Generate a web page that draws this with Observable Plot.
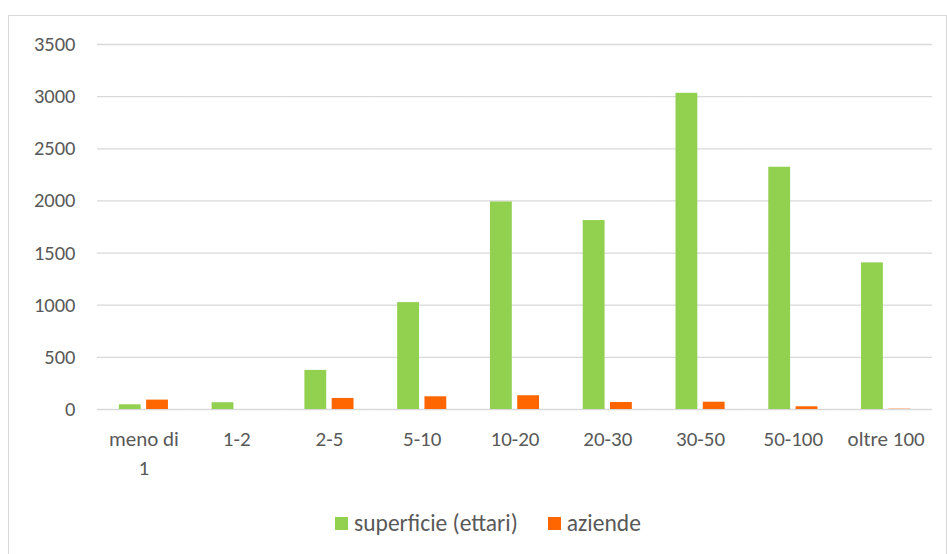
<!DOCTYPE html>
<html>
<head>
<meta charset="utf-8">
<script src="https://cdn.jsdelivr.net/npm/d3@7"></script>
<script src="https://cdn.jsdelivr.net/npm/@observablehq/plot@0.6"></script>
<style>
  html, body { margin: 0; padding: 0; background: #ffffff; overflow: hidden; }
  #frame {
    position: absolute; left: 8px; top: 15px; width: 939px; height: 560px;
    box-sizing: border-box; border: 1px solid #d9d9d9; background: #fff;
    font-family: Carlito, Lato, sans-serif; color: #595959;
  }
  #legend { display: flex; align-items: center; padding-left: 326px; margin-top: 15px; font-size: 23.5px; line-height: 24px; }
  .item { display: flex; align-items: center; margin-right: 30px; }
  .sw { width: 13px; height: 13px; margin-right: 6px; display: inline-block; }
</style>
</head>
<body>
<div id="frame"><div id="chart"></div><div id="legend"></div></div>
<script>
const categories = ["meno di 1", "1-2", "2-5", "5-10", "10-20", "20-30", "30-50", "50-100", "oltre 100"];
const tickLabels = ["meno di\n1", "1-2", "2-5", "5-10", "10-20", "20-30", "30-50", "50-100", "oltre 100"];
const seriesNames = ["superficie (ettari)", "aziende"];
const superficie = [45, 65, 375, 1025, 1990, 1812, 3032, 2323, 1406];
const aziende = [90, 0, 106, 122, 132, 67, 70, 26, 3];
const yTicks = [0, 500, 1000, 1500, 2000, 2500, 3000, 3500];
const colors = ["#92d050", "#ff6600"];

const data = [];
categories.forEach((c, i) => {
  data.push({cat: c, series: seriesNames[0], value: superficie[i]});
  data.push({cat: c, series: seriesNames[1], value: aziende[i]});
});
const labelOf = new Map(categories.map((c, i) => [c, tickLabels[i]]));

const chart = Plot.plot({
  width: 937,
  height: 480,
  marginTop: 28,
  marginBottom: 87,
  marginLeft: 88,
  marginRight: 14,
  style: {fontFamily: "Carlito, Lato, sans-serif", fontSize: "20.5px", color: "#595959", background: "#fff"},
  fx: {domain: categories, padding: 0, round: false, label: null},
  x: {domain: seriesNames, paddingInner: 0.2, paddingOuter: 0.8, round: false, axis: null},
  y: {domain: [0, 3500], label: null},
  color: {domain: seriesNames, range: colors},
  marks: [
    Plot.gridY(yTicks, {stroke: "#d9d9d9", strokeOpacity: 1, strokeWidth: 1.3}),
    Plot.barY(data, {fx: "cat", x: "series", y: "value", fill: "series"}),
    Plot.axisY(yTicks, {tickSize: 0, tickPadding: 22, fill: "#595959", fontSize: 20.5, tickFormat: d => String(d), label: null}),
    Plot.axisFx({anchor: "bottom", tickSize: 0, tickPadding: 16, fill: "#595959", fontSize: 21, lineHeight: 1.38, tickFormat: d => labelOf.get(d), label: null})
  ]
});
document.getElementById("chart").appendChild(chart);

const legend = document.getElementById("legend");
seriesNames.forEach((s, i) => {
  const it = document.createElement("span");
  it.className = "item";
  const sw = document.createElement("span");
  sw.className = "sw";
  sw.style.background = colors[i];
  it.appendChild(sw);
  it.appendChild(document.createTextNode(s));
  legend.appendChild(it);
});
</script>
</body>
</html>
